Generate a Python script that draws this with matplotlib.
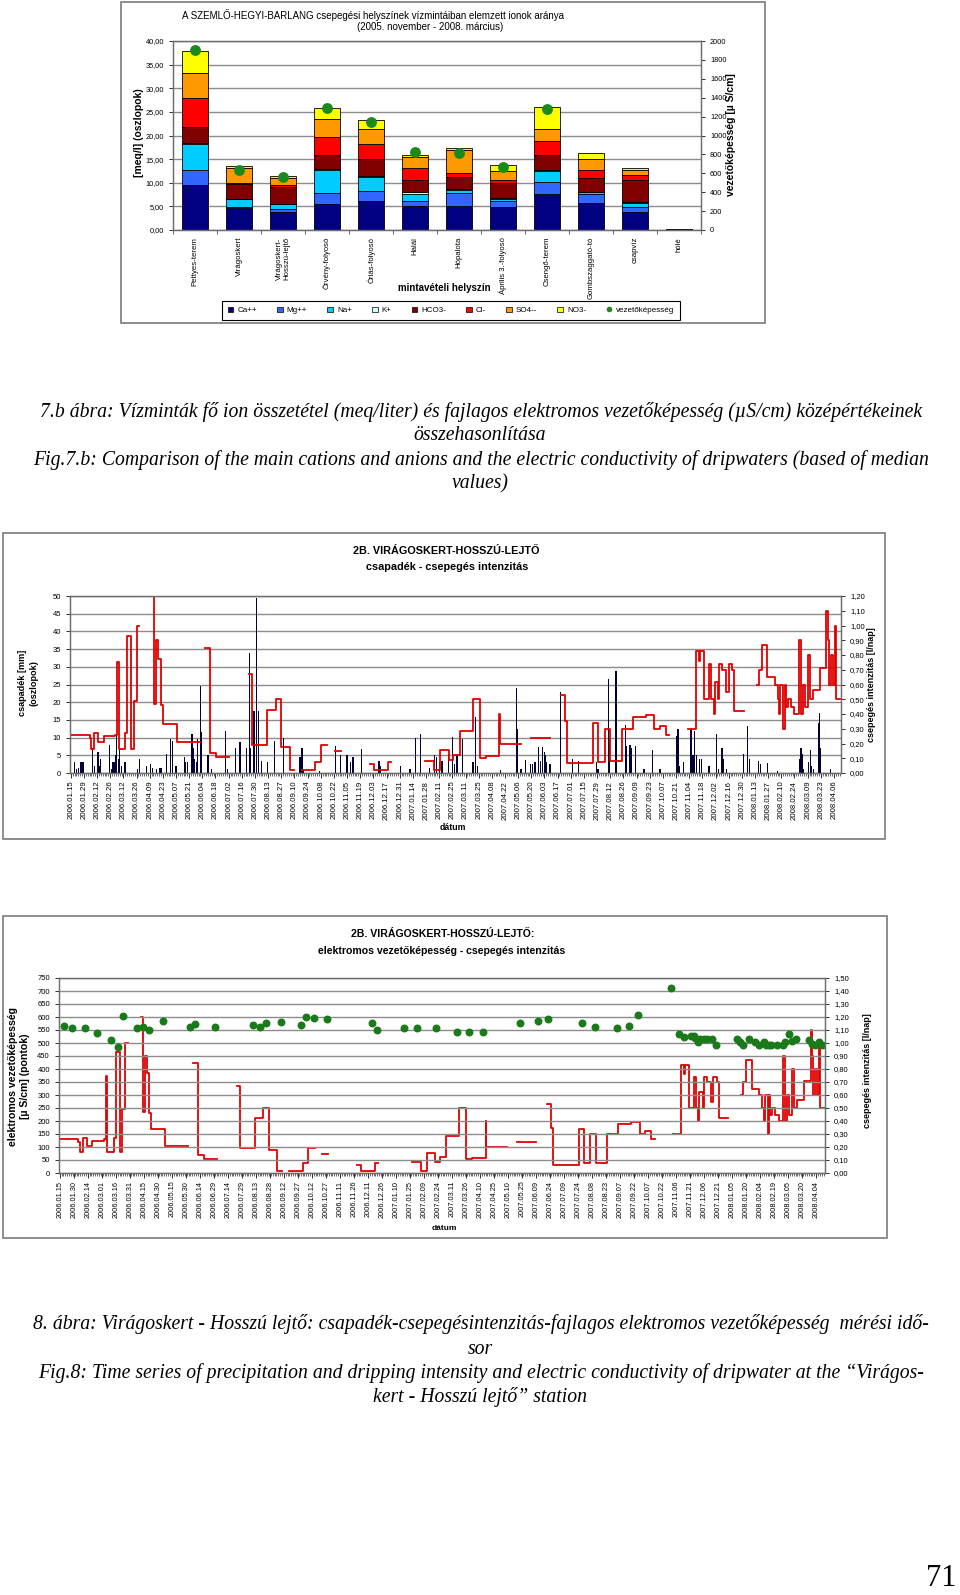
import numpy as np
import pandas as pd
import matplotlib
matplotlib.use('Agg')
import matplotlib.pyplot as plt
import matplotlib.dates as mdates
from matplotlib.patches import Rectangle, Patch
from matplotlib.lines import Line2D

plt.rcParams['font.family'] = ['Liberation Sans', 'DejaVu Sans']
nan = np.nan

# ---------------- 7.b abra: ion osszetetel ----------------
helyszin = ['Pettyes-terem', 'Virágoskert', 'Virágoskert-\nHosszú-lejtő', 'Örvény-folyosó',
            'Óriás-folyosó', 'Halál', 'Hópalota', 'Április 3.-folyosó', 'Csengő-terem',
            'Gombszaggató-tó', 'csapvíz', 'hólé']
ionok = ['Ca++', 'Mg++', 'Na+', 'K+', 'HCO3-', 'Cl-', 'SO4--', 'NO3-']
ion_szin = ['#000080', '#3366ff', '#00ccff', '#ccffff', '#800000', '#ff0000', '#ff9900', '#ffff00']
ca   = [9.44, 4.65, 3.87, 5.56, 6.06, 5.07, 5.07, 4.79, 7.54, 5.77, 3.73, 0.10]
mg   = [3.16, 0.28, 0.57, 2.19, 2.11, 0.99, 2.82, 1.34, 2.53, 1.83, 1.06, 0.03]
na   = [5.70, 1.55, 0.98, 4.95, 3.03, 1.62, 0.56, 0.35, 2.47, 0.36, 0.98, 0.02]
k    = [0.15, 0.12, 0.14, 0.26, 0.28, 0.28, 0.21, 0.21, 0.14, 0.14, 0.13, 0.01]
hco3 = [3.35, 3.20, 3.44, 2.81, 3.62, 2.60, 2.61, 3.17, 3.17, 2.96, 4.66, 0.05]
cl   = [6.10, 0.20, 0.44, 3.88, 3.10, 2.47, 0.70, 0.70, 3.09, 1.74, 1.04, 0.05]
so4  = [5.30, 3.10, 1.62, 3.75, 3.10, 2.47, 4.93, 1.84, 2.54, 2.13, 1.20, 0.03]
no3  = [4.70, 0.35, 0.28, 2.50, 1.90, 0.27, 0.56, 1.26, 4.52, 1.27, 0.23, 0.02]
vezetokepesseg = [1909, 640, 556, 1289, 1141, 827, 817, 669, 1285, nan, nan, nan]

# ---------------- 8. abra: idosorok (nap = napok 2006.01.15 ota) ----------------
KEZDET = '2006-01-15'
csap_nap = [4, 6, 8, 10, 11, 13, 23, 25, 29, 31, 32, 41, 43, 45, 46, 48, 49, 51, 52, 54,
            57, 58, 71, 73, 81, 85, 87, 91, 95, 96, 102, 106, 108, 112, 121, 122, 124, 129, 130, 132,
            134, 135, 138, 139, 146, 150, 165, 167, 175, 180, 187, 190, 191, 195, 198, 200, 203, 209, 217, 226,
            244, 246, 248, 265, 282, 287, 294, 298, 300, 301, 309, 328, 329, 351, 361, 367, 372, 382, 387, 389,
            392, 395, 402, 406, 408, 411, 417, 428, 431, 433,
            457, 474, 475, 479, 484, 489, 491, 494, 498, 500, 502, 504, 505, 506, 510, 521, 534, 540, 559, 561,
            572, 573, 580, 590, 591, 595, 597, 601, 610, 619, 627, 645, 646, 648, 652, 659, 660, 662, 664, 666,
            669, 671, 679, 687, 689, 693, 694, 698, 716, 720, 722, 732, 734, 741, 752, 775, 777, 778, 779, 785,
            787, 788, 790, 796, 797, 798, 808]
csap_mm = [3, 1, 1.5, 3, 3, 3, 7, 2, 6, 2, 4, 8, 1, 3, 3, 5, 11, 4, 7, 2,
           3, 3, 1, 4, 2, 2.5, 1.5, 1, 1.5, 1.5, 5.3, 9.5, 9, 2, 4.5, 3, 3, 11, 7, 4,
           3, 9.5, 24.5, 11.5, 5, 1.2, 12, 1, 7, 8.7, 7, 34, 7, 17.5, 49.5, 17.5, 3.5, 3.2, 9, 10,
           4.5, 7.2, 1, 0.5, 7.5, 5, 5, 3, 4.5, 4.5, 6.8, 3.5, 2, 2, 1.2, 9.8, 11, 1.5, 5, 4.5,
           3, 3.5, 5.5, 10.2, 2.5, 5, 9.5, 3.2, 15.7, 2,
           0.8, 24, 12.5, 1, 3.8, 2.5, 2.5, 3, 7.4, 3.5, 7.4, 6, 5, 3, 2.5, 23, 4, 3.5, 3, 1,
           26.5, 10, 28.7, 13.5, 7.5, 7.8, 7.2, 7.5, 1, 6.4, 1, 10.5, 12.4, 2, 3, 1.5, 12.5, 5, 12, 5,
           4, 4, 2, 11, 1, 7, 4, 1, 5.5, 13.4, 4, 3.5, 2.5, 2.7, 0.5, 4, 7, 5.5, 1, 3,
           6.5, 2, 1, 14, 17, 7, 1]

drip_nap = [0, 20, 22, 25, 29, 35, 47, 49, 51, 58, 60, 64, 67, 70, 73,
            87, 89, 91, 93, 96, 98, 113, 137,
            143, 148, 155, 168,
            190, 193, 209, 218, 224, 233, 238,
            246, 260, 266, 273,
            281, 287,
            318, 323, 338, 341,
            377, 387, 393, 402, 407, 414, 428, 435, 442, 456, 457, 479,
            490, 510,
            522, 526, 528, 556, 561, 568, 574, 586, 598, 612, 621, 627, 633, 637,
            657, 665, 668, 670, 674, 679, 681, 684, 685, 689, 690, 693, 697, 700, 704, 706, 716,
            730, 732, 735, 741, 749, 752, 754, 755, 758, 760, 761, 763, 766, 770, 775, 777, 779,
            781, 784, 786, 790, 797, 804, 806, 807, 809, 811, 813, 814, 818]
drip_lnap = [0.26, 0.24, 0.165, 0.27, 0.21, 0.25, 0.26, 0.75, 0.165, 0.27, 0.93, 0.165, 0.49, 1.0, nan,
             1.2, 0.47, 0.9, 0.77, 0.46, 0.335, 0.21, nan,
             0.845, 0.135, 0.106, nan,
             0.67, 0.19, 0.425, 0.5, 0.177, 0.018, nan,
             0.018, 0.075, 0.19, nan,
             0.147, nan,
             0.06, 0.018, 0.075, nan,
             0.082, 0.018, 0.154, 0.086, 0.125, 0.285, 0.5, 0.104, 0.118, 0.40, 0.20, nan,
             0.24, nan,
             0.53, 0.35, 0.065, 0.34, 0.075, 0.30, 0.08, 0.30, 0.38, 0.39, 0.30, 0.32, 0.26, nan,
             0.30, 0.83, 0.76, 0.83, 0.50, 0.74, 0.50, 0.40, 0.62, 0.50, 0.74, 0.70, 0.55, 0.74, 0.70, 0.42, nan,
             0.60, 0.70, 0.87, 0.65, 0.60, 0.50, 0.40, 0.60, 0.30, 0.60, 0.45, 0.50, 0.45, 0.40, 0.90, 0.40, 0.60,
             0.45, 0.80, 0.50, 0.56, 0.71, 1.10, 0.90, 0.60, 0.80, 0.60, 1.00, 0.50, nan]

vez_nap = [5, 13, 27, 40, 55, 62, 68, 83, 89, 96, 111, 140, 145, 166, 207, 214, 221, 237, 258, 264,
           272, 286, 334, 340, 369, 383, 403, 425, 438,
           453, 493, 512, 523, 559, 573, 597, 610, 619, 655, 663, 669, 676, 679, 680, 683, 686, 690, 693, 698,
           703, 725, 728, 732, 738, 745, 749, 754, 756, 759, 762, 768, 774, 777, 781, 784, 788, 802, 806, 809,
           813, 816]
vez_uScm = [566, 558, 556, 538, 512, 484, 602, 556, 561, 551, 583, 562, 574, 561, 569, 561, 576, 580, 571, 600,
            598, 592, 577, 551, 558, 558, 558, 544, 544,
            542, 576, 585, 592, 576, 562, 557, 567, 606, 712, 535, 524, 528, 526, 521, 503, 516, 516, 516, 514,
            494, 516, 502, 492, 516, 505, 494, 505, 492, 494, 494, 492, 494, 502, 535, 508, 515, 510, 497, 492,
            503, 494]

W, H = 960, 1595
fig = plt.figure(figsize=(W / 100, H / 100), dpi=100)
GRID = '#8c8c8c'


def px_axes(x0, y0, x1, y1):
    return fig.add_axes([x0 / W, 1 - y1 / H, (x1 - x0) / W, (y1 - y0) / H])


def px_box(x0, y0, x1, y1):
    fig.patches.append(Rectangle((x0 / W, 1 - y1 / H), (x1 - x0) / W, (y1 - y0) / H,
                                 transform=fig.transFigure, fill=False, ec='#7a7a7a', lw=1.2))


def ftext(x, y, s, **kw):
    fig.text(x / W, 1 - y / H, s, **kw)


def vesszo(v, d):
    return f'{v:.{d}f}'.replace('.', ',')


def stilus(ax):
    for sp in ax.spines.values():
        sp.set_color('#6e6e6e')
        sp.set_linewidth(0.9)
    ax.tick_params(colors='#303030', labelcolor='black', width=0.7)


# ---------- felso diagram ----------
px_box(121, 2, 765, 323)
ax = px_axes(173, 41, 701, 230)
x = np.arange(len(helyszin))
also = np.zeros(len(helyszin))
for nev, ertek, szin in zip(ionok, [ca, mg, na, k, hco3, cl, so4, no3], ion_szin):
    ax.bar(x, ertek, bottom=also, width=0.57, color=szin, edgecolor='black', linewidth=0.6, label=nev)
    also += np.array(ertek)
ax.set_ylim(0, 40)
ax.set_xlim(-0.5, len(helyszin) - 0.5)
yt = np.arange(0, 41, 5)
ax.set_yticks(yt, [vesszo(v, 2) for v in yt], fontsize=5.3)
ax.yaxis.grid(True, color=GRID, lw=1.0)
ax.set_axisbelow(True)
ax.set_xticks(x, helyszin, rotation=90, fontsize=5.6, linespacing=1.1)
ax.tick_params(axis='x', length=0, pad=5)
ax.set_xticks(np.arange(-0.5, len(helyszin)), minor=True)
ax.tick_params(axis='x', which='minor', length=3, color='#505050')
ax.tick_params(axis='y', length=3)
stilus(ax)
ax2 = ax.twinx()
ax2.plot(x, vezetokepesseg, 'o', color='#1a8a1a', ms=6.8, ls='none')
ax2.set_ylim(0, 2000)
ax2.set_yticks(np.arange(0, 2001, 200), [str(v) for v in range(0, 2001, 200)], fontsize=5.3)
ax2.tick_params(axis='y', length=3)
stilus(ax2)

ftext(373, 15, 'A SZEMLŐ-HEGYI-BARLANG csepegési helyszínek vízmintáiban elemzett ionok aránya',
      ha='center', va='center', fontsize=7)
ftext(430, 27, '(2005. november - 2008. március)', ha='center', va='center', fontsize=7)
ftext(139, 133, '[meq/l] (oszlopok)', rotation=90, ha='center', va='center', fontsize=7.5, fontweight='bold')
ftext(731, 135, 'vezetőképesség [µ S/cm]', rotation=90, ha='center', va='center', fontsize=7.5,
      fontweight='bold')
ftext(444, 288, 'mintavételi helyszín', ha='center', va='center', fontsize=7, fontweight='bold')

kezek = [Patch(fc=c, ec='black', lw=0.5) for c in ion_szin]
kezek.append(Line2D([], [], marker='o', ls='none', color='#1a8a1a', ms=3))
fig.legend(kezek, ionok + ['vezetőképesség'], loc='center', bbox_to_anchor=(451 / W, 1 - 310.5 / H),
           ncol=9, fontsize=5.8, frameon=True, fancybox=False, edgecolor='black', framealpha=1,
           handlelength=0.7, handleheight=0.7, handletextpad=0.5, columnspacing=2.5,
           borderpad=0.7).get_frame().set_linewidth(0.8)

# caption 1
cap = dict(ha='center', va='center', fontsize=14.2, style='italic', family='Liberation Serif')
ftext(481, 412, '7.b ábra: Vízminták fő ion összetétel (meq/liter) és fajlagos elektromos vezetőképesség '
                '(µS/cm) középértékeinek', **cap)
ftext(480, 436, 'összehasonlítása', **cap)
ftext(481, 460, 'Fig.7.b: Comparison of the main cations and anions and the electric conductivity of '
                'dripwaters (based of median', **cap)
ftext(480, 484, 'values)', **cap)

# ---------- kozos datum tengely ----------
t0 = mdates.date2num(pd.Timestamp(KEZDET))
xlim = (t0 - 0.8, t0 + 819.5)


def datum_tengely(ax, lepes, utolso, meret):
    napok = np.arange(0, utolso + 1, lepes)
    cimkek = [(pd.Timestamp(KEZDET) + pd.Timedelta(days=int(n))).strftime('%Y.%m.%d') for n in napok]
    ax.set_xticks(t0 + napok, cimkek, rotation=90, fontsize=meret)
    ax.set_xticks(t0 + np.arange(0, 820, 2), minor=True)
    ax.tick_params(axis='x', which='major', length=3.5, pad=2)
    ax.tick_params(axis='x', which='minor', length=2.5, width=0.5, color='#303030')
    ax.set_xlim(*xlim)


# ---------- kozepso diagram ----------
px_box(3, 533, 885, 839)
bm = px_axes(70, 596, 841, 773)
bm.bar(t0 + np.array(csap_nap), csap_mm, width=1.3, color='#000033', linewidth=0)
bm.set_ylim(0, 50)
bm.set_yticks(np.arange(0, 51, 5), [str(v) for v in range(0, 51, 5)], fontsize=5.5)
bm.yaxis.grid(True, color=GRID, lw=1.0)
bm.set_axisbelow(True)
bm.tick_params(axis='y', length=3)
datum_tengely(bm, 14, 812, 5.6)
stilus(bm)
bm2 = bm.twinx()
bm2.plot(t0 + np.array(drip_nap), drip_lnap, drawstyle='steps-post', color='#e00000', lw=1.3)
bm2.set_ylim(0, 1.2)
bm2.set_yticks(np.arange(0, 1.21, 0.1), [vesszo(v, 2) for v in np.arange(0, 1.21, 0.1)], fontsize=5.5)
bm2.tick_params(axis='y', length=3)
bm2.set_xlim(*xlim)
stilus(bm2)
ftext(446, 551, '2B. VIRÁGOSKERT-HOSSZÚ-LEJTŐ', ha='center', va='center', fontsize=7.8, fontweight='bold')
ftext(447, 567, 'csapadék - csepegés intenzitás', ha='center', va='center', fontsize=7.8, fontweight='bold')
ftext(28, 683, 'csapadék [mm]\n(oszlopok)', rotation=90, ha='center', va='center', fontsize=6.6,
      fontweight='bold', linespacing=1.4)
ftext(872, 685, 'csepegés intenzitás [l/nap]', rotation=90, ha='center', va='center', fontsize=6.5,
      fontweight='bold')
ftext(453, 827, 'dátum', ha='center', va='center', fontsize=6.3, fontweight='bold')

# ---------- also diagram ----------
px_box(3, 916, 887, 1238)
cm = px_axes(59, 978, 825, 1173)
cm.plot(t0 + np.array(vez_nap), vez_uScm, 'o', color='#1a7a1a', ms=4.7, ls='none')
cm.set_ylim(0, 750)
cm.set_yticks(np.arange(0, 751, 50), [str(v) for v in range(0, 751, 50)], fontsize=5.5)
cm.yaxis.grid(True, color=GRID, lw=1.0)
cm.set_axisbelow(True)
cm.tick_params(axis='y', length=3)
datum_tengely(cm, 15, 810, 5.3)
stilus(cm)
cm2 = cm.twinx()
cm2.plot(t0 + np.array(drip_nap), drip_lnap, drawstyle='steps-post', color='#e00000', lw=1.3)
cm2.set_ylim(0, 1.5)
cm2.set_yticks(np.arange(0, 1.51, 0.1), [vesszo(v, 2) for v in np.arange(0, 1.51, 0.1)], fontsize=5.5)
cm2.tick_params(axis='y', length=3)
cm2.set_xlim(*xlim)
stilus(cm2)
cm.set_zorder(cm2.get_zorder() + 1)
cm.patch.set_visible(False)
ftext(443, 934, '2B. VIRÁGOSKERT-HOSSZÚ-LEJTŐ:', ha='center', va='center', fontsize=7.6, fontweight='bold')
ftext(442, 951, 'elektromos vezetőképesség - csepegés intenzitás', ha='center', va='center', fontsize=7.6,
      fontweight='bold')
ftext(19, 1076, 'elektromos vezetőképesség\n[µ S/cm] (pontok)', rotation=90, ha='center', va='center',
      fontsize=7.6, fontweight='bold', linespacing=1.3)
ftext(867, 1071, 'csepegés intenzitás [l/nap]', rotation=90, ha='center', va='center', fontsize=6.5,
      fontweight='bold')
ftext(444, 1228, 'dátum', ha='center', va='center', fontsize=6, fontweight='bold')

# caption 2
ftext(481, 1324, '8. ábra: Virágoskert - Hosszú lejtő: csapadék-csepegésintenzitás-fajlagos elektromos '
                 'vezetőképesség  mérési idő-', **cap)
ftext(480, 1349, 'sor', **cap)
ftext(481, 1373, 'Fig.8: Time series of precipitation and dripping intensity and electric conductivity of '
                 'dripwater at the “Virágos-', **cap)
ftext(480, 1397, 'kert - Hosszú lejtő” station', **cap)
ftext(941, 1579, '71', ha='center', va='center', fontsize=22, family='Liberation Serif')

fig.savefig('out.png', dpi=100)
